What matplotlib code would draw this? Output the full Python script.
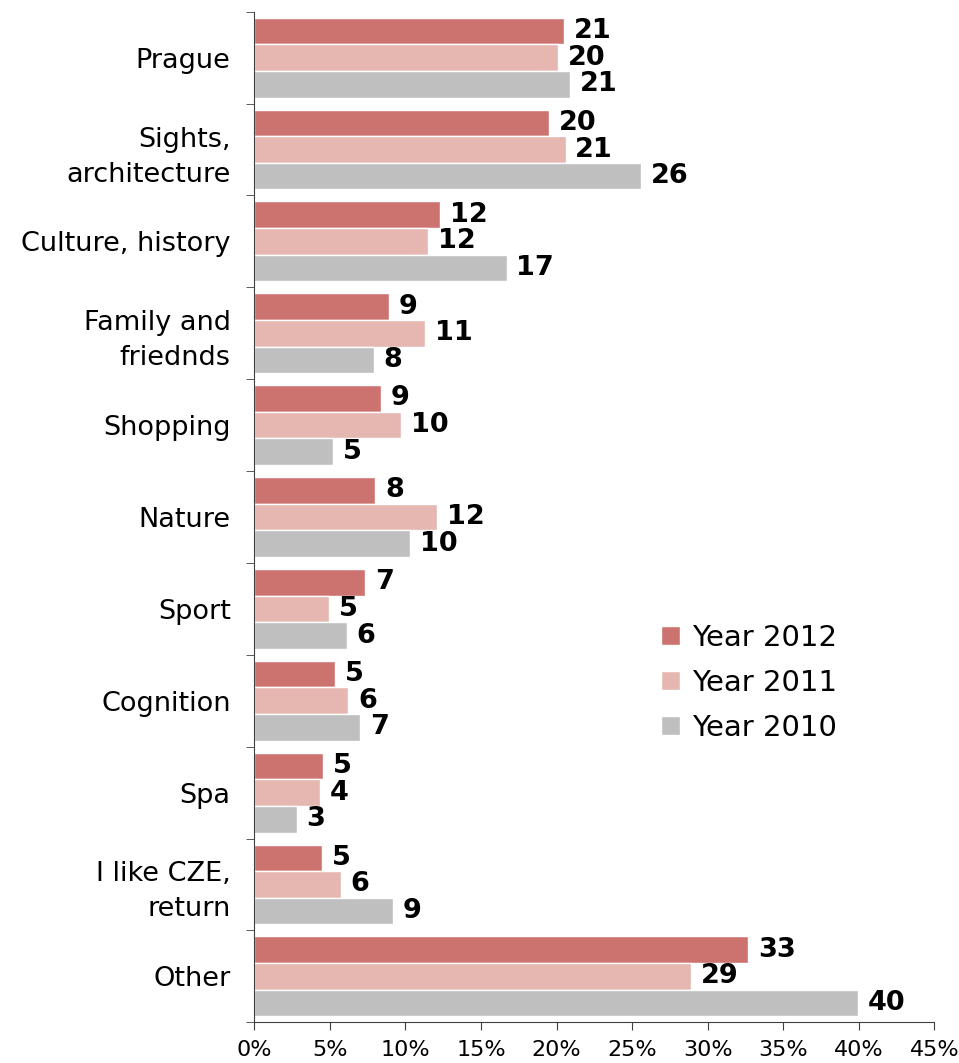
import numpy as np
from matplotlib import pyplot as plt
from matplotlib.ticker import FuncFormatter, FixedLocator

categories = ['Prague', 'Sights,\narchitecture', 'Culture, history', 'Family and\nfriednds',
              'Shopping', 'Nature', 'Sport', 'Cognition', 'Spa', 'I like CZE,\nreturn', 'Other']
series = ['Year 2012', 'Year 2011', 'Year 2010']
year_2012 = [20.5, 19.5, 12.3, 8.9, 8.4, 8.0, 7.35, 5.36, 4.57, 4.48, 32.7]
year_2011 = [20.1, 20.6, 11.5, 11.3, 9.7, 12.1, 4.94, 6.22, 4.37, 5.74, 28.9]
year_2010 = [20.9, 25.6, 16.7, 7.9, 5.2, 10.3, 6.13, 7.0, 2.82, 9.16, 39.93]
labels_2012 = ['21', '20', '12', '9', '9', '8', '7', '5', '5', '5', '33']
labels_2011 = ['20', '21', '12', '11', '10', '12', '5', '6', '4', '6', '29']
labels_2010 = ['21', '26', '17', '8', '5', '10', '6', '7', '3', '9', '40']
colors = ['#cc7370', '#e6b6b1', '#bfbfbf']

plt.rcParams['font.family'] = ['DejaVu Sans']

fig = plt.figure(figsize=(9.59, 10.63), dpi=100)
ax = fig.add_axes([0.2652, 0.0383, 0.7091, 0.9507])

y = np.arange(len(categories))
h = 0.29
all_vals = [year_2012, year_2011, year_2010]
all_labels = [labels_2012, labels_2011, labels_2010]
for i, (vals, labs) in enumerate(zip(all_vals, all_labels)):
    pos = y + (i - 1) * h
    ax.barh(pos, vals, height=h, color=colors[i], edgecolor='white', linewidth=1,
            label=series[i])
    for p, v, t in zip(pos, vals, labs):
        ax.annotate(t, (v, p), xytext=(7, 0), textcoords='offset points',
                    ha='left', va='center', fontsize=19.5, fontweight='bold')

ax.set_xlim(0, 45)
ax.set_ylim(len(categories) - 0.5, -0.5)
ax.set_xticks(np.arange(0, 46, 5))
ax.xaxis.set_major_formatter(FuncFormatter(lambda v, _: '{:.0f}%'.format(v)))
ax.set_yticks(y)
ax.set_yticklabels(categories, fontsize=19.5)
for lab in ax.get_yticklabels():
    lab.set_linespacing(1.45)
ax.yaxis.set_minor_locator(FixedLocator(np.arange(-0.5, len(categories), 1)))
ax.tick_params(axis='y', which='major', length=0, pad=17)
ax.tick_params(axis='y', which='minor', length=6, color='#404040')
ax.tick_params(axis='x', length=6, color='#404040', labelsize=16, pad=7)

for s in ['top', 'right']:
    ax.spines[s].set_visible(False)
for s in ['left', 'bottom']:
    ax.spines[s].set_color('#404040')

ax.legend(loc='upper left', bbox_to_anchor=(661 / 959, 1 - 624 / 1063),
          bbox_transform=fig.transFigure, frameon=False, fontsize=21,
          borderpad=0, borderaxespad=0,
          handlelength=0.65, handleheight=0.65, handletextpad=0.4, labelspacing=0.58)

plt.savefig('out.png', dpi=100)
